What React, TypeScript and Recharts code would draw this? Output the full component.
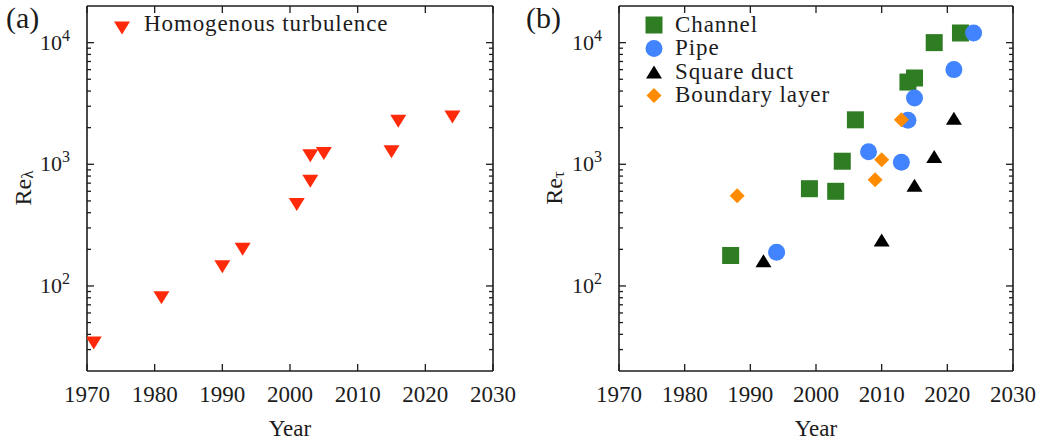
import { ScatterChart, Scatter, XAxis, YAxis, Legend } from 'recharts';

const INK = '#1c1c1c';
const FONT = "'Liberation Serif', 'DejaVu Serif', serif";
const txt = { fontFamily: FONT };

// Homogenous isotropic turbulence, Re_lambda by year
const hitYears = [1971, 1981, 1990, 1993, 2001, 2003, 2003, 2005, 2015, 2016, 2024];
const hitRe = [34, 80, 144, 200, 468, 725, 1175, 1225, 1270, 2260, 2450];

// Wall-bounded flows, Re_tau by year
const channelYears = [1987, 1999, 2003, 2004, 2006, 2014, 2015, 2018, 2022];
const channelRe = [178, 630, 600, 1060, 2320, 4740, 5120, 10000, 12000];
const pipeYears = [1994, 2008, 2013, 2014, 2015, 2021, 2024];
const pipeRe = [189, 1270, 1040, 2300, 3500, 6000, 12000];
const ductYears = [1992, 2010, 2015, 2018, 2021];
const ductRe = [161, 239, 671, 1157, 2390];
const blYears = [1988, 2009, 2010, 2013];
const blRe = [552, 748, 1092, 2320];

const yearTicks = [1970, 1980, 1990, 2000, 2010, 2020, 2030];
const majorRe = [100, 1000, 10000];
const minorRe = [30, 40, 50, 60, 70, 80, 90, 200, 300, 400, 500, 600, 700, 800, 900,
  2000, 3000, 4000, 5000, 6000, 7000, 8000, 9000];
const reTicks = [...minorRe, ...majorRe].sort((a, b) => a - b);

type Marker = 'down' | 'up' | 'square' | 'circle' | 'diamond';

interface Series {
  name: string;
  color: string;
  marker: Marker;
  data: { year: number; re: number }[];
}

const pts = (xs: number[], ys: number[]) => xs.map((year, i) => ({ year, re: ys[i] }));

const hitSeries: Series[] = [
  { name: 'Homogenous turbulence', color: '#ff2a0a', marker: 'down', data: pts(hitYears, hitRe) },
];

const wallSeries: Series[] = [
  { name: 'Channel', color: '#2e7d23', marker: 'square', data: pts(channelYears, channelRe) },
  { name: 'Pipe', color: '#4284ff', marker: 'circle', data: pts(pipeYears, pipeRe) },
  { name: 'Square duct', color: '#000000', marker: 'up', data: pts(ductYears, ductRe) },
  { name: 'Boundary layer', color: '#ff8c00', marker: 'diamond', data: pts(blYears, blRe) },
];

function drawMarker(kind: Marker, cx: number, cy: number, color: string) {
  switch (kind) {
    case 'down':
      return <polygon points={`${cx - 8},${cy - 6.5} ${cx + 8},${cy - 6.5} ${cx},${cy + 6.5}`} fill={color} />;
    case 'up':
      return <polygon points={`${cx - 8},${cy + 6.5} ${cx + 8},${cy + 6.5} ${cx},${cy - 6.5}`} fill={color} />;
    case 'square':
      return <rect x={cx - 8.5} y={cy - 8.5} width={17} height={17} fill={color} />;
    case 'circle':
      return <circle cx={cx} cy={cy} r={8.5} fill={color} />;
    case 'diamond':
      return <polygon points={`${cx},${cy - 7.5} ${cx + 7.5},${cy} ${cx},${cy + 7.5} ${cx - 7.5},${cy}`} fill={color} />;
  }
}

const tickStroke = { stroke: INK, strokeWidth: 1.3 };
const frame = { stroke: INK, strokeWidth: 1.6 };

const BottomTick = (p: any) => (
  <g>
    <line x1={p.x} x2={p.x} y1={p.y} y2={p.y - 7} {...tickStroke} />
    <text x={p.x} y={p.y + 31} textAnchor="middle" style={txt} fontSize={23} fill={INK}>
      {p.payload.value}
    </text>
  </g>
);

const TopTick = (p: any) => <line x1={p.x} x2={p.x} y1={p.y} y2={p.y + 7} {...tickStroke} />;

// left ticks: long marks with 10^n labels on decades, short unlabelled marks between
const LeftTick = (p: any) => {
  const v = p.payload.value;
  const major = majorRe.includes(v);
  return (
    <g>
      <line x1={p.x} x2={p.x + (major ? 7 : 4)} y1={p.y} y2={p.y} {...tickStroke} />
      {major && (
        <text x={p.x - 17} y={p.y + 7} textAnchor="end" style={txt} fontSize={22} fill={INK}>
          10<tspan dy={-9} fontSize={16}>{Math.round(Math.log10(v))}</tspan>
        </text>
      )}
    </g>
  );
};

const RightTick = (p: any) => {
  const major = majorRe.includes(p.payload.value);
  return <line x1={p.x} x2={p.x - (major ? 7 : 4)} y1={p.y} y2={p.y} {...tickStroke} />;
};

interface PanelProps {
  width: number;
  leftW: number;
  rightW: number;
  tag: string;
  sub: string;
  labelX: number;
  series: Series[];
  legendSymX: number;
  legendTextX: number;
  legendBase: number;
  legendSymDy: number;
}

function Panel(props: PanelProps) {
  const { width, leftW, rightW, tag, sub, labelX, series, legendSymX, legendTextX, legendBase, legendSymDy } = props;

  const yLabel = () => (
    <g>
      <text x={6} y={28} style={txt} fontSize={30} fill={INK}>{tag}</text>
      <g transform={`translate(${labelX},188) rotate(-90)`}>
        <text x={0} y={0} textAnchor="middle" style={txt} fontSize={24} fill={INK}>
          Re<tspan dy={2} fontSize={17}>{sub}</tspan>
        </text>
      </g>
    </g>
  );

  const xLabel = (p: any) => {
    const vb = p.viewBox;
    return (
      <text x={vb.x + vb.width / 2} y={436} textAnchor="middle" style={txt} fontSize={23} fill={INK}>
        Year
      </text>
    );
  };

  const legendContent = () => (
    <svg width={width} height={120} style={{ display: 'block', overflow: 'visible' }}>
      {series.map((s, i) => {
        const base = legendBase + i * 23.5;
        return (
          <g key={s.name}>
            {drawMarker(s.marker, legendSymX, base - legendSymDy, s.color)}
            <text x={legendTextX} y={base} style={txt} fontSize={23} letterSpacing={0.9} fill={INK}>
              {s.name}
            </text>
          </g>
        );
      })}
    </svg>
  );

  const commonX = {
    type: 'number' as const,
    dataKey: 'year',
    domain: [1970, 2030],
    ticks: yearTicks,
    interval: 0 as const,
    allowDataOverflow: true,
    tickSize: 0,
    tickMargin: 0,
    tickLine: false,
    axisLine: frame,
  };
  const commonY = {
    type: 'number' as const,
    dataKey: 're',
    scale: 'log' as const,
    domain: [20, 20000],
    ticks: reTicks,
    interval: 0 as const,
    allowDataOverflow: true,
    tickSize: 0,
    tickMargin: 0,
    tickLine: false,
    axisLine: frame,
  };

  return (
    <ScatterChart width={width} height={441} margin={{ top: 0, right: 0, bottom: 0, left: 0 }}>
      <XAxis xAxisId="b" orientation="bottom" height={70} tick={<BottomTick />} label={xLabel} {...commonX} />
      <XAxis xAxisId="t" orientation="top" height={6} tick={<TopTick />} {...commonX} />
      <YAxis yAxisId="l" orientation="left" width={leftW} tick={<LeftTick />} label={yLabel} {...commonY} />
      <YAxis yAxisId="r" orientation="right" width={rightW} tick={<RightTick />} {...commonY} />
      {series.map((s) => (
        <Scatter
          key={s.name}
          name={s.name}
          data={s.data}
          xAxisId="b"
          yAxisId="l"
          fill={s.color}
          shape={(p: any) => drawMarker(s.marker, p.cx, p.cy, s.color)}
          isAnimationActive={false}
        />
      ))}
      <Legend
        layout="horizontal"
        align="center"
        verticalAlign="middle"
        content={legendContent}
        wrapperStyle={{ left: 0, top: 0, width, height: 120, pointerEvents: 'none' }}
      />
    </ScatterChart>
  );
}

export default function App() {
  return (
    <div style={{ position: 'absolute', left: 0, top: 0, width: 1055, height: 441, background: '#fff', fontFamily: FONT }}>
      <div style={{ position: 'absolute', left: 0, top: 0 }}>
        <Panel
          width={520}
          leftW={87}
          rightW={27}
          tag="(a)"
          sub="λ"
          labelX={30.5}
          series={hitSeries}
          legendSymX={122}
          legendTextX={144}
          legendBase={31}
          legendSymDy={3}
        />
      </div>
      <div style={{ position: 'absolute', left: 520, top: 0 }}>
        <Panel
          width={535}
          leftW={99}
          rightW={42}
          tag="(b)"
          sub="τ"
          labelX={41.5}
          series={wallSeries}
          legendSymX={134}
          legendTextX={155}
          legendBase={31.5}
          legendSymDy={6.5}
        />
      </div>
    </div>
  );
}
